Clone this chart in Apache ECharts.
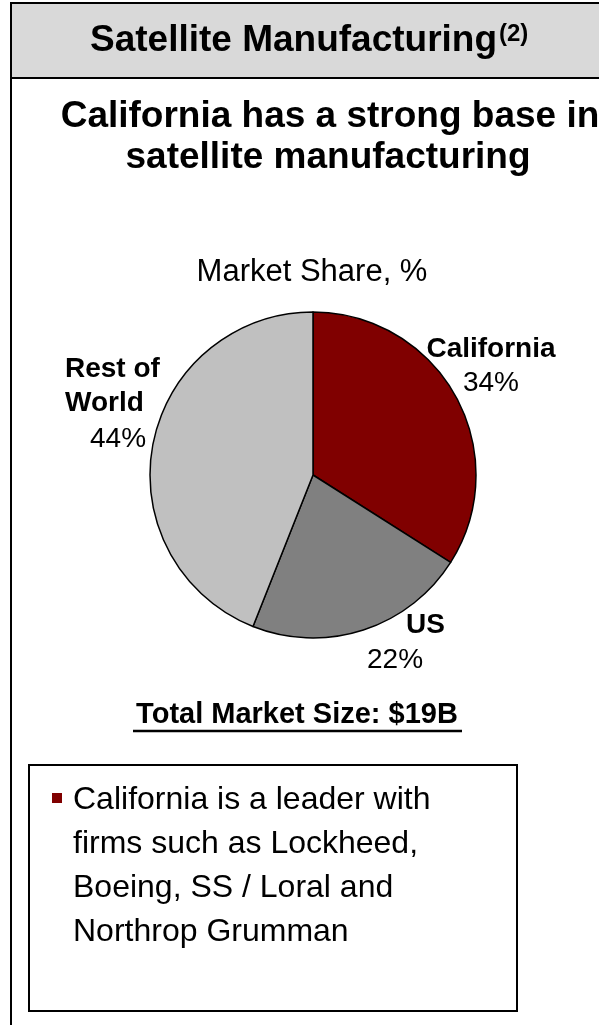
<!DOCTYPE html>
<html>
<head>
<meta charset="utf-8">
<script src="https://cdn.jsdelivr.net/npm/echarts@6/dist/echarts.min.js"></script>
<style>
  html, body { margin: 0; padding: 0; background: #fff; }
  #chart { width: 599px; height: 1025px; }
</style>
</head>
<body>
<div id="chart"></div>
<script>
// market share data
const categories = ['California', 'US', 'Rest of World']
const shares = [34, 22, 44]
const sliceColors = ['#800000', '#808080', '#c0c0c0']
const bulletLines = [
  'California is a leader with',
  'firms such as Lockheed,',
  'Boeing, SS / Loral and',
  'Northrop Grumman'
]

const FONT = '"Liberation Sans", Arial, sans-serif'

// where each slice label sits (left/center anchor, top of block)
const labelSpots = [
  { x: 491, y: 332, align: 'center' },
  { x: 367, y: 607, align: 'left' },
  { x: 65, y: 352, align: 'left' }
]

const myChart = echarts.init(document.getElementById('chart'))

myChart.setOption({
  backgroundColor: '#ffffff',
  animation: false,
  graphic: [
    // header band
    {
      type: 'rect',
      shape: { x: 11, y: 3, width: 600, height: 75 },
      style: { fill: '#d9d9d9', stroke: '#000', lineWidth: 2 },
      z: 1
    },
    // left border of the panel
    {
      type: 'line',
      shape: { x1: 11, y1: 3, x2: 11, y2: 1025 },
      style: { stroke: '#000', lineWidth: 2 },
      z: 2
    },
    {
      type: 'text',
      x: 90,
      y: 41,
      style: {
        text: 'Satellite Manufacturing',
        font: 'bold 37px ' + FONT,
        fill: '#000',
        textVerticalAlign: 'middle'
      },
      z: 3
    },
    {
      type: 'text',
      x: 499,
      y: 34,
      style: {
        text: '(2)',
        font: 'bold 24px ' + FONT,
        fill: '#000',
        textVerticalAlign: 'middle'
      },
      z: 3
    },
    // headline
    {
      type: 'text',
      x: 330,
      y: 117,
      style: {
        text: 'California has a strong base in',
        font: 'bold 37px ' + FONT,
        fill: '#000',
        textAlign: 'center',
        textVerticalAlign: 'middle'
      }
    },
    {
      type: 'text',
      x: 328,
      y: 158,
      style: {
        text: 'satellite manufacturing',
        font: 'bold 37px ' + FONT,
        fill: '#000',
        textAlign: 'center',
        textVerticalAlign: 'middle'
      }
    },
    {
      type: 'text',
      x: 312,
      y: 272,
      style: {
        text: 'Market Share, %',
        font: '31px ' + FONT,
        fill: '#000',
        textAlign: 'center',
        textVerticalAlign: 'middle'
      }
    },
    // total market size with underline
    {
      type: 'text',
      x: 297,
      y: 715,
      style: {
        text: 'Total Market Size: $19B',
        font: 'bold 29px ' + FONT,
        fill: '#000',
        textAlign: 'center',
        textVerticalAlign: 'middle'
      }
    },
    {
      type: 'line',
      shape: { x1: 133, y1: 731, x2: 462, y2: 731 },
      style: { stroke: '#000', lineWidth: 2.5 }
    },
    // bullet box
    {
      type: 'rect',
      shape: { x: 29, y: 765, width: 488, height: 246 },
      style: { fill: 'none', stroke: '#000', lineWidth: 2 }
    },
    {
      type: 'rect',
      shape: { x: 52, y: 793, width: 10, height: 10 },
      style: { fill: '#800000' }
    },
    {
      type: 'text',
      x: 73,
      y: 778,
      style: {
        text: bulletLines.join('\n'),
        font: '32px ' + FONT,
        lineHeight: 44,
        fill: '#000',
        textVerticalAlign: 'top'
      }
    }
  ],
  series: [
    {
      type: 'pie',
      center: [313, 475],
      radius: 163,
      startAngle: 90,
      clockwise: true,
      avoidLabelOverlap: false,
      silent: true,
      itemStyle: {
        borderColor: '#000',
        borderWidth: 1.5
      },
      labelLine: { show: false },
      label: {
        show: true,
        position: 'outside',
        color: '#000',
        formatter: params => {
          const pct = params.value + '%'
          if (params.dataIndex === 0) {
            return '{n|' + params.name + '}\n{v|' + pct + '}'
          }
          if (params.dataIndex === 1) {
            return '{u|' + params.name + '}\n{v|' + pct + '}'
          }
          return '{n|Rest of}\n{n|World}\n{p|' + pct + '}'
        },
        rich: {
          n: { fontFamily: FONT, fontWeight: 'bold', fontSize: 28, lineHeight: 34, color: '#000' },
          u: { fontFamily: FONT, fontWeight: 'bold', fontSize: 28, lineHeight: 36, color: '#000', padding: [0, 0, 0, 39] },
          v: { fontFamily: FONT, fontSize: 28, lineHeight: 35, color: '#000' },
          p: { fontFamily: FONT, fontSize: 28, lineHeight: 38, color: '#000', padding: [0, 0, 0, 25] }
        }
      },
      labelLayout: params => {
        const spot = labelSpots[params.dataIndex]
        return {
          x: spot.x,
          y: spot.y,
          align: spot.align,
          verticalAlign: 'top'
        }
      },
      data: categories.map((name, i) => ({
        name: name,
        value: shares[i],
        itemStyle: { color: sliceColors[i] }
      }))
    }
  ]
})
</script>
</body>
</html>
